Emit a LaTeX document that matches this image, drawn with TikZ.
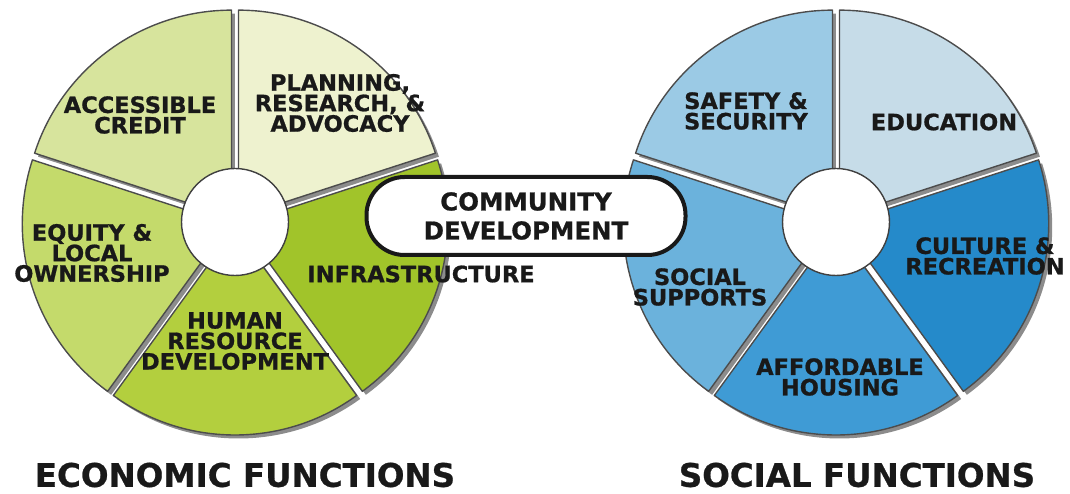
\documentclass[tikz,border=0pt]{standalone}
\usepackage{fontspec}
\setmainfont{DejaVu Sans}[BoldFeatures={FakeBold=0.8}]
\usepackage{tikz}
\usetikzlibrary{positioning}
\usetikzlibrary{calc}

\definecolor{ecoA}{HTML}{EEF2CF}
\definecolor{ecoB}{HTML}{D7E49D}
\definecolor{ecoC}{HTML}{C4DA6B}
\definecolor{ecoD}{HTML}{B3CF3E}
\definecolor{ecoE}{HTML}{A1C42A}
\definecolor{socA}{HTML}{C6DCE8}
\definecolor{socB}{HTML}{9BCAE5}
\definecolor{socC}{HTML}{6BB2DC}
\definecolor{socD}{HTML}{3F9BD5}
\definecolor{socE}{HTML}{258ACA}

\begin{document}
\begin{tikzpicture}[x=1pt,y=1pt,
slice/.style={draw=black!70,line width=1.4pt,line join=round},
shade/.style={fill=black!45},
hub/.style={circle,draw=black!75,line width=1.4pt,fill=white,minimum size=107pt,inner sep=0pt},
lbl/.style={font=\bfseries\fontsize{22.5}{20.5}\selectfont,align=center,text=black!90},
title/.style={font=\bfseries\fontsize{32.5}{32.5}\selectfont,text=black!90}]

\useasboundingbox (0,0) rectangle (1070,493);

% kozeppontok
\coordinate (eco) at (235,271);
\coordinate (soc) at (836,271);

% arnyekok
\foreach \c in {eco,soc}
  \foreach \a in {18,90,162,234,306}
    \fill[shade] ($(\c)+(\a+36:6)+(3.5,-3.5)$) -- +(\a:207)
      arc[start angle=\a,delta angle=72,radius=207] -- cycle;

% cikkek
\foreach \a/\col in {18/ecoA,90/ecoB,162/ecoC,234/ecoD,306/ecoE}
  \filldraw[slice,fill=\col] ($(eco)+(\a+36:6)$) -- +(\a:207)
    arc[start angle=\a,delta angle=72,radius=207] -- cycle;
\foreach \a/\col in {18/socA,90/socB,162/socC,234/socD,306/socE}
  \filldraw[slice,fill=\col] ($(soc)+(\a+36:6)$) -- +(\a:207)
    arc[start angle=\a,delta angle=72,radius=207] -- cycle;

% belso korok
\node[hub] (ecohub) at (eco) {};
\node[hub] (sochub) at (soc) {};

% kozepso doboz
\node[draw=black!90,line width=4pt,fill=white,rounded corners=38pt,
  minimum width=319pt,minimum height=78pt,align=center,
  font=\bfseries\fontsize{24.5}{29}\selectfont,text=black!90] (comdev) at (526,277)
  {COMMUNITY\\DEVELOPMENT};

% gazdasagi feliratok
\node[lbl] (planning) at (340,390) {PLANNING,\\RESEARCH, \&\\ADVOCACY};
\node[lbl] (credit)   at (140,378) {ACCESSIBLE\\CREDIT};
\node[lbl] (equity)   at (92,240)  {EQUITY \&\\LOCAL\\OWNERSHIP};
\node[lbl] (human)    at (235,152) {HUMAN\\RESOURCE\\DEVELOPMENT};
\node[lbl] (infra)    at (421,219) {INFRASTRUCTURE};

% tarsadalmi feliratok
\node[lbl] (safety)   at (746,382) {SAFETY \&\\SECURITY};
\node[lbl] (educ)     at (944,371) {EDUCATION};
\node[lbl] (culture)  at (985,237) {CULTURE \&\\RECREATION};
\node[lbl] (supports) at (700,206) {SOCIAL\\SUPPORTS};
\node[lbl] (housing)  at (840,116) {AFFORDABLE\\HOUSING};

% also cimek
\node[title] (ecotitle) at (245,18) {ECONOMIC FUNCTIONS};
\node[title] (soctitle) at (857,18) {SOCIAL FUNCTIONS};
\end{tikzpicture}
\end{document}
